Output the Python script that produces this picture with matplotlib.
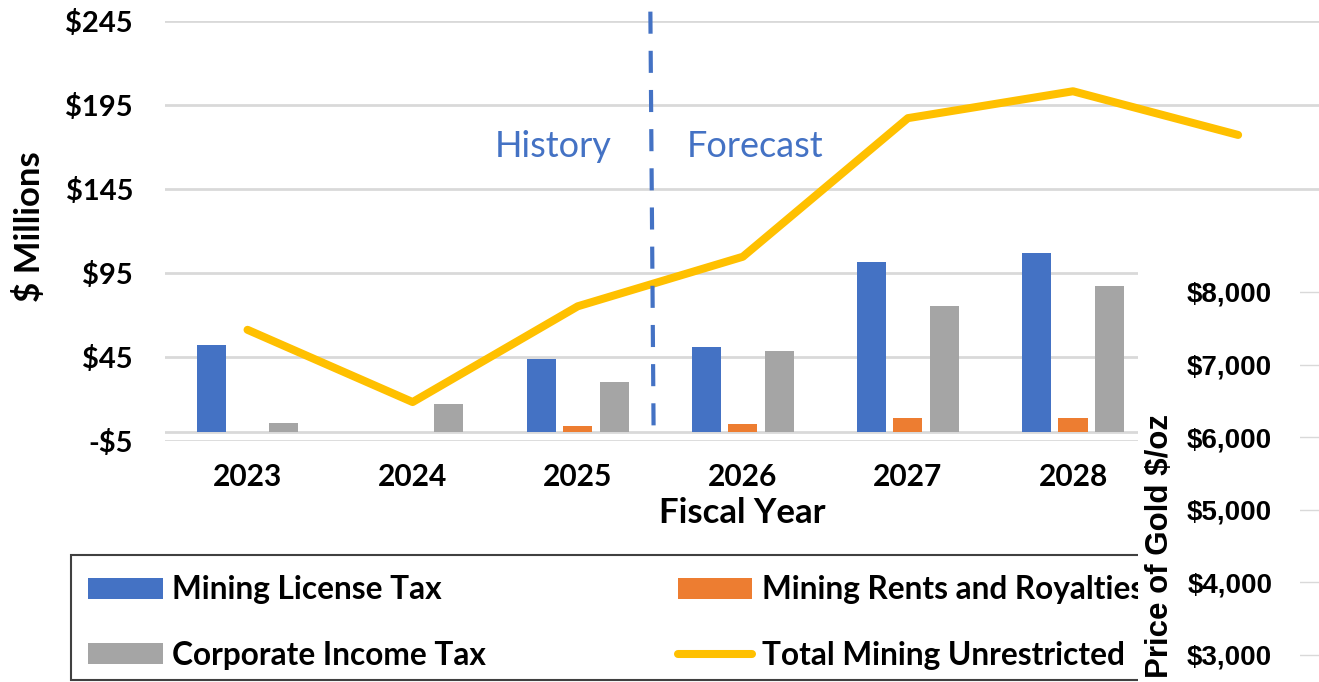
import matplotlib
matplotlib.use('Agg')
import matplotlib.pyplot as plt
import numpy as np
from matplotlib.patches import Rectangle, Patch
from matplotlib.lines import Line2D

plt.rcParams['font.family'] = ['Lato', 'DejaVu Sans']

# Fiscal years and revenue by source ($ millions)
years = ['2023', '2024', '2025', '2026', '2027', '2028']
license_tax = [52, 0, 43.5, 51, 101.5, 107]
rents_royalties = [0, 0, 3.8, 4.8, 8.3, 8.3]
corporate_tax = [5.7, 16.8, 30, 48.6, 75.2, 87.3]

# total line runs one more year (its last point sits under the gold price panel)
total_years = ['2023', '2024', '2025', '2026', '2027', '2028', '2029']
total_mining = [61, 18, 75, 104.5, 187, 203, 177]

y_ticks = [-5, 45, 95, 145, 195, 245]
gold_ticks = [3000, 4000, 5000, 6000, 7000, 8000]

BLUE = '#4472C4'
ORANGE = '#ED7D31'
GRAY = '#A5A5A5'
GOLD = '#FFC000'
GRID = '#D9D9D9'

W, H = 1319, 682


def fx(px):
    return px / W


def fy(py):
    return 1 - py / H


fig = plt.figure(figsize=(W / 100, H / 100), dpi=100)

# main chart
ax = fig.add_axes([fx(165), fy(440.7), 1 - fx(165), (440.7 - 20.7) / H])
x = np.arange(len(years))
ax.bar(x - 0.22, license_tax, 0.176, color=BLUE, zorder=2)
ax.bar(x, rents_royalties, 0.176, color=ORANGE, zorder=2)
ax.bar(x + 0.22, corporate_tax, 0.176, color=GRAY, zorder=2)
ax.plot(np.arange(len(total_years)), total_mining, color=GOLD, lw=5.8,
        solid_capstyle='round', solid_joinstyle='round', zorder=3)

ax.set_xlim(-0.5, 6.49)
ax.set_ylim(-5, 245)
ax.set_yticks(y_ticks, [f'-${-v}' if v < 0 else f'${v}' for v in y_ticks])
ax.set_xticks(x, years)
ax.tick_params(axis='y', length=0, pad=23, labelsize=21)
ax.tick_params(axis='x', length=0, pad=16, labelsize=21.5)
for lab in ax.get_xticklabels() + ax.get_yticklabels():
    lab.set_fontweight('bold')
for s in ax.spines.values():
    s.set_visible(False)
ax.grid(axis='y', color=GRID, lw=2)
ax.set_axisbelow(True)
ax.axhline(0, color=GRID, lw=2, zorder=1)

# history / forecast divider
ax.plot([2.44, 2.46], [250.4, -4.6], color=BLUE, lw=3, ls=(0, (5.3, 4.1)),
        clip_on=False, zorder=4)
ax.text(1.85, 163.9, 'History', color=BLUE, fontsize=26, ha='center', va='baseline')
ax.text(3.077, 163.9, 'Forecast', color=BLUE, fontsize=26, ha='center', va='baseline')

fig.text(fx(30), fy(227), '$ Millions', rotation=90, ha='center', va='center',
         fontsize=25, fontweight='bold')
fig.text(fx(742), fy(513), 'Fiscal Year', ha='center', va='center',
         fontsize=25, fontweight='bold')

# legend box (its right end runs under the gold price panel)
fig.patches.append(Rectangle((fx(70.7), fy(680)), fx(1250) - fx(70.7), (680 - 555) / H,
                             transform=fig.transFigure, facecolor='white',
                             edgecolor='#404040', lw=1.5, zorder=4.5))
handles = [Patch(facecolor=BLUE), Patch(facecolor=GRAY), Patch(facecolor=ORANGE),
           Line2D([], [], color=GOLD, lw=5.8, solid_capstyle='round')]
labels = ['Mining License Tax', 'Corporate Income Tax',
          'Mining Rents and Royalties', 'Total Mining Unrestricted']
leg = fig.legend(handles, labels, loc='upper left', bbox_to_anchor=(fx(70.7), fy(558)),
                 ncol=2, prop={'weight': 'bold', 'size': 22.8}, frameon=False,
                 handlelength=2.35, handleheight=0.63, handletextpad=0.3,
                 labelspacing=1.15, columnspacing=6.06, borderpad=0.55,
                 borderaxespad=0)

# gold price panel covering the lower right corner
fig.patches.append(Rectangle((fx(1138), 0), 1 - fx(1138), (682 - 230) / H,
                             transform=fig.transFigure, facecolor='white',
                             edgecolor='none', zorder=6))
gax = fig.add_axes([fx(1300), 0, 1 - fx(1300) + 0.01, (682 - 230) / H], zorder=7)
gax.patch.set_alpha(0)
gax.set_ylim(2628, 8854)
gax.set_yticks(gold_ticks, [f'${v:,}' for v in gold_ticks])
gax.set_xticks([])
gax.tick_params(axis='y', length=0, pad=20)
for lab in gax.get_yticklabels():
    lab.set_fontfamily('Liberation Sans')
    lab.set_fontweight('bold')
    lab.set_fontsize(20)
for s in gax.spines.values():
    s.set_visible(False)
gax.grid(axis='y', color=GRID, lw=1)
fig.text(fx(1160), fy(546), 'Price of Gold $/oz', rotation=90, ha='center', va='center',
         family='Liberation Sans', fontweight='bold', fontsize=22.5, zorder=8)

fig.savefig('out.png', dpi=100)
